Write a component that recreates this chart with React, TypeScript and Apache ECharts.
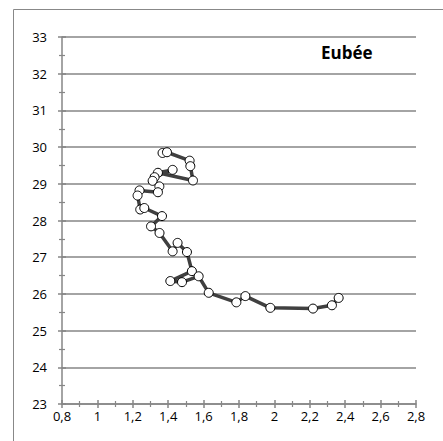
import React, { useEffect, useRef } from "react";
import * as echarts from "echarts";

const xValues = [1.368, 1.393, 1.521, 1.525, 1.54, 1.342, 1.425, 1.323, 1.312, 1.35, 1.342, 1.238, 1.227, 1.242, 1.265, 1.365, 1.303, 1.351, 1.425, 1.453, 1.506, 1.534, 1.412, 1.478, 1.572, 1.629, 1.785, 1.836, 1.977, 2.218, 2.325, 2.363];
const yValues = [29.84, 29.86, 29.63, 29.48, 29.09, 29.3, 29.38, 29.18, 29.08, 28.93, 28.77, 28.82, 28.68, 28.3, 28.34, 28.12, 27.84, 27.66, 27.16, 27.39, 27.14, 26.62, 26.35, 26.32, 26.48, 26.03, 25.77, 25.94, 25.62, 25.6, 25.69, 25.89];
const title = "Eubée";
const xMin = 0.8, xMax = 2.8, xStep = 0.2;
const yMin = 23, yMax = 33, yStep = 1;

const W = 443, H = 441;
const G = { left: 62, right: 27, top: 37, bottom: 37 };

export default function App() {
  const ref = useRef<HTMLDivElement>(null);
  useEffect(() => {
    document.body.style.margin = "0";
    const chart = echarts.init(ref.current!, null, { renderer: "svg" });
    const gw = W - G.left - G.right;
    const gh = H - G.top - G.bottom;
    const axisColor = "#868686";
    const fmtX = (v: number) => String(Number(v.toFixed(1))).replace(".", ",");
    const data = xValues.map((x, i) => [x, yValues[i]]);
    const font = "'Open Sans', 'Noto Sans', sans-serif";
    chart.setOption({
      animation: false,
      grid: { ...G },
      graphic: [
        { type: "rect", shape: { x: 13.5, y: 9.5, width: 460, height: 460 }, style: { fill: "none", stroke: "#888", lineWidth: 1 }, silent: true },
        { type: "text", x: 321, y: 44, style: { text: title, font: `bold 17px ${font}`, fill: "#000" } },
      ],
      xAxis: [
        {
          type: "value", min: xMin, max: xMax, interval: xStep, position: "bottom",
          axisLine: { show: true, onZero: false, lineStyle: { color: axisColor, width: 1.5 } },
          axisTick: { show: true, length: 4, lineStyle: { color: axisColor, width: 1.5 } },
          minorTick: { show: true, splitNumber: 2, length: 3, lineStyle: { color: axisColor, width: 1.2 } },
          axisLabel: { formatter: fmtX, color: "#000", fontSize: 13, fontFamily: font, margin: 5 },
          splitLine: { show: false },
        },
        {
          type: "value", min: xMin, max: xMax, interval: xStep, position: "top", offset: -gh,
          axisLine: { show: false, onZero: false },
          axisTick: { show: true, inside: false, length: 4, lineStyle: { color: axisColor, width: 1.5 } },
          minorTick: { show: true, splitNumber: 2, length: 3, lineStyle: { color: axisColor, width: 1.2 } },
          axisLabel: { show: false },
          splitLine: { show: false },
        },
      ],
      yAxis: [
        {
          type: "value", min: yMin, max: yMax, interval: yStep, position: "left",
          axisLine: { show: true, onZero: false, lineStyle: { color: axisColor, width: 1.5 } },
          axisTick: { show: true, length: 4, lineStyle: { color: axisColor, width: 1.5 } },
          minorTick: { show: true, splitNumber: 2, length: 3, lineStyle: { color: axisColor, width: 1.2 } },
          axisLabel: { color: "#000", fontSize: 13, fontFamily: font, margin: 15 },
          splitLine: { show: true, lineStyle: { color: axisColor, width: 1.5 } },
        },
        {
          type: "value", min: yMin, max: yMax, interval: yStep, position: "right", offset: -gw,
          axisLine: { show: false, onZero: false },
          axisTick: { show: true, inside: false, length: 4, lineStyle: { color: axisColor, width: 1.5 } },
          minorTick: { show: true, splitNumber: 2, length: 3, lineStyle: { color: axisColor, width: 1.2 } },
          axisLabel: { show: false },
          splitLine: { show: false },
        },
      ],
      series: [
        {
          type: "line",
          data,
          xAxisIndex: 0,
          yAxisIndex: 0,
          symbol: "circle",
          symbolSize: 9,
          showAllSymbol: true,
          lineStyle: { color: "#404040", width: 3.5 },
          itemStyle: { color: "#fff", borderColor: "#000", borderWidth: 1 },
          z: 5,
        },
      ],
    });
    return () => chart.dispose();
  }, []);
  return <div ref={ref} style={{ width: W, height: H }} />;
}
